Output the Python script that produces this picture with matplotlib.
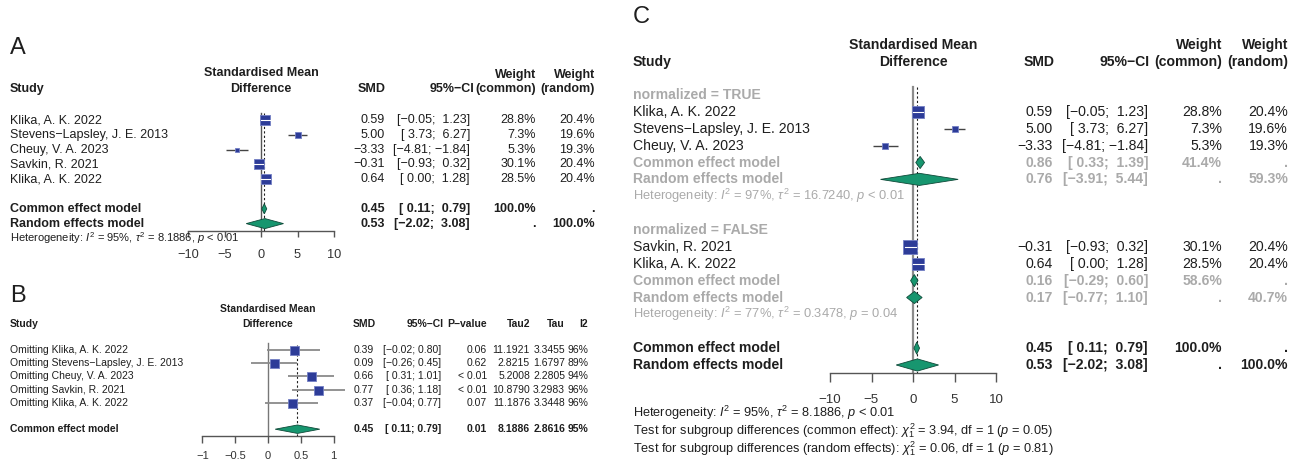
import matplotlib
matplotlib.use('Agg')
import matplotlib.pyplot as plt
from matplotlib.patches import Polygon
from matplotlib.transforms import blended_transform_factory

plt.rcParams['font.family'] = ['Liberation Sans', 'DejaVu Sans']
plt.rcParams['mathtext.fontset'] = 'custom'
plt.rcParams['mathtext.rm'] = 'Liberation Sans'
plt.rcParams['mathtext.it'] = 'Liberation Sans:italic'
plt.rcParams['mathtext.bf'] = 'Liberation Sans:bold'

# ---- data: studies (A and C) ----
studies = ['Klika, A. K. 2022', 'Stevens−Lapsley, J. E. 2013', 'Cheuy, V. A. 2023',
           'Savkin, R. 2021', 'Klika, A. K. 2022']
smd = [0.59, 5.00, -3.33, -0.31, 0.64]
ci_lo = [-0.05, 3.73, -4.81, -0.93, 0.00]
ci_hi = [1.23, 6.27, -1.84, 0.32, 1.28]
w_common = [28.8, 7.3, 5.3, 30.1, 28.5]
w_random = [20.4, 19.6, 19.3, 20.4, 20.4]
normalized = ['TRUE', 'TRUE', 'TRUE', 'FALSE', 'FALSE']

common = (0.45, 0.11, 0.79)
random = (0.53, -2.02, 3.08)
het_i2, het_tau2, het_p = '95%', '8.1886', '< 0.01'

# subgroups (C)
groups = ['TRUE', 'FALSE']
sub_common = [(0.86, 0.33, 1.39), (0.16, -0.29, 0.60)]
sub_common_w = [41.4, 58.6]
sub_random = [(0.76, -3.91, 5.44), (0.17, -0.77, 1.10)]
sub_random_w = [59.3, 40.7]
sub_het = [('97%', '16.7240', '< 0.01'), ('77%', '0.3478', '= 0.04')]
test_common = ('3.94', '1', '0.05')
test_random = ('0.06', '1', '0.81')

# leave-one-out (B)
loo_est = [0.39, 0.09, 0.66, 0.77, 0.37]
loo_lo = [-0.02, -0.26, 0.31, 0.36, -0.04]
loo_hi = [0.80, 0.45, 1.01, 1.18, 0.77]
loo_p = ['0.06', '0.62', '< 0.01', '< 0.01', '0.07']
loo_tau2 = ['11.1921', '2.8215', '5.2008', '10.8790', '11.1876']
loo_tau = ['3.3455', '1.6797', '2.2805', '3.2983', '3.3448']
loo_i2 = ['96%', '89%', '94%', '96%', '96%']
pooled_p, pooled_tau2, pooled_tau, pooled_i2 = '0.01', '8.1886', '2.8616', '95%'

# ---- styling ----
W, H = 1299, 461
BLACK = '#1e1e1e'
GRAY = '#aaaaaa'
AXC = '#555555'
SQ = '#2d3c98'
SQ_EDGE = '#7480c4'
DIA = '#17966f'
DIA_EDGE = '#0f4a39'

fig = plt.figure(figsize=(W / 100, H / 100), dpi=100)


def fx(x):
    return x / W


def fy(y):
    return 1 - y / H


def ftext(x, y, s, **kw):
    kw.setdefault('color', BLACK)
    kw.setdefault('va', 'center')
    fig.text(fx(x), fy(y), s, **kw)


def minus(s):
    return s.replace('-', '−')


def num(v):
    return minus(f'{v:.2f}')


def ci_column(lo, hi):
    los = [f'{v:.2f}' for v in lo]
    his = [f'{v:.2f}' for v in hi]
    wl = max(len(s) for s in los)
    wh = max(len(s) for s in his)
    return [minus('[' + a.rjust(wl) + '; ' + b.rjust(wh) + ']') for a, b in zip(los, his)]


def make_axes(xl, xr, xlim, row0, step, y_axis, ticks, tick_len, pad, tsize):
    axis_row = (y_axis - row0) / step
    ytop = row0 - step
    ax = fig.add_axes([fx(xl), fy(y_axis), (xr - xl) / W, (y_axis - ytop) / H])
    ax.set_xlim(xlim)
    ax.set_ylim(axis_row, -1)
    ax.patch.set_alpha(0)
    for s in ['top', 'left', 'right']:
        ax.spines[s].set_visible(False)
    ax.spines['bottom'].set_color(AXC)
    ax.spines['bottom'].set_linewidth(1)
    ax.set_yticks([])
    ax.set_xticks(ticks)
    ax.set_xticklabels([minus(f'{t:g}') for t in ticks])
    ax.tick_params(axis='x', length=tick_len, width=1, color=AXC, pad=pad,
                   labelsize=tsize, labelcolor='#333333')
    tr = blended_transform_factory(fig.transFigure, ax.transData)
    ppu = (xr - xl) / (xlim[1] - xlim[0])
    return ax, tr, axis_row, ppu


def rtext(tr, x, row, s, **kw):
    kw.setdefault('color', BLACK)
    kw.setdefault('va', 'center')
    plt.text(fx(x), row, s, transform=tr, **kw)


def study_mark(ax, row, est, lo, hi, side_px, ppu, line_col='#444444', lw=1.0):
    ax.plot([lo, hi], [row, row], color=line_col, lw=lw, zorder=2,
            solid_capstyle='butt', clip_on=False)
    ax.scatter([est], [row], marker='s', s=(side_px * 0.72) ** 2, color=SQ,
               edgecolor=SQ_EDGE, linewidth=0.6, zorder=3, clip_on=False)
    if (hi - lo) * ppu < side_px:
        ax.plot([lo, hi], [row, row], color='white', lw=0.8, zorder=4, clip_on=False)


def diamond(ax, row, est, lo, hi, half=0.34):
    ax.add_patch(Polygon([(lo, row), (est, row - half), (hi, row), (est, row + half)],
                         closed=True, facecolor=DIA, edgecolor=DIA_EDGE, lw=0.6,
                         zorder=3, clip_on=False))


# ================= Panel A =================
fs = 9
ftext(10, 48, 'A', fontsize=17)
ftext(261, 73, 'Standardised Mean', fontsize=fs, weight='bold', ha='center')
ftext(261, 89, 'Difference', fontsize=fs, weight='bold', ha='center')
ftext(10, 89, 'Study', fontsize=fs, weight='bold')
ftext(386, 89, 'SMD', fontsize=fs, weight='bold', ha='right')
ftext(474, 89, '95%−CI', fontsize=fs, weight='bold', ha='right')
ftext(536, 75, 'Weight', fontsize=fs, weight='bold', ha='right')
ftext(536, 89, '(common)', fontsize=fs, weight='bold', ha='right')
ftext(595, 75, 'Weight', fontsize=fs, weight='bold', ha='right')
ftext(595, 89, '(random)', fontsize=fs, weight='bold', ha='right')

axA, trA, arowA, ppuA = make_axes(188, 334, (-10, 10), 120, 14.8, 231,
                                  [-10, -5, 0, 5, 10], 4.3, 8.5, 9.2)
cisA = ci_column(ci_lo + [common[1], random[1]], ci_hi + [common[2], random[2]])
for i in range(len(studies)):
    side = 1.86 * w_common[i] ** 0.5
    study_mark(axA, i, smd[i], ci_lo[i], ci_hi[i], side, ppuA)
    rtext(trA, 10, i, studies[i], fontsize=fs)
    rtext(trA, 385, i, num(smd[i]), fontsize=fs, ha='right')
    rtext(trA, 470, i, cisA[i], fontsize=fs, ha='right')
    rtext(trA, 536, i, f'{w_common[i]:.1f}%', fontsize=fs, ha='right')
    rtext(trA, 595, i, f'{w_random[i]:.1f}%', fontsize=fs, ha='right')
rc, rr = len(studies) + 1, len(studies) + 2
diamond(axA, rc, *common)
diamond(axA, rr, *random)
for row, name, est, ci, wc, wr in [(rc, 'Common effect model', common[0], cisA[-2], '100.0%', '.'),
                                   (rr, 'Random effects model', random[0], cisA[-1], '.', '100.0%')]:
    rtext(trA, 10, row, name, fontsize=fs, weight='bold')
    rtext(trA, 385, row, num(est), fontsize=fs, weight='bold', ha='right')
    rtext(trA, 470, row, ci, fontsize=fs, weight='bold', ha='right')
    rtext(trA, 536, row, wc, fontsize=fs, weight='bold', ha='right')
    rtext(trA, 595, row, wr, fontsize=fs, weight='bold', ha='right')
axA.plot([0, 0], [-0.5, arowA], color=AXC, lw=1, zorder=1)
axA.plot([common[0]] * 2, [-0.5, arowA], color=BLACK, lw=0.8, ls=(0, (2, 2)), zorder=1)
rtext(trA, 10, rr + 1, rf'Heterogeneity: $I^2$ = {het_i2}, $\tau^2$ = {het_tau2}, $p$ {het_p}',
      fontsize=8)

# ================= Panel B =================
fb = 7.5
ftext(10, 296, 'B', fontsize=17)
ftext(268, 309, 'Standardised Mean', fontsize=fb, weight='bold', ha='center')
ftext(268, 324, 'Difference', fontsize=fb, weight='bold', ha='center')
ftext(10, 324, 'Study', fontsize=fb, weight='bold')
for x, s in [(376, 'SMD'), (444, '95%−CI'), (487, 'P−value'), (530, 'Tau2'), (565, 'Tau'), (588, 'I2')]:
    ftext(x, 324, s, fontsize=fb, weight='bold', ha='right')

axB, trB, arowB, ppuB = make_axes(202.5, 333.5, (-1, 1), 350, 13.2, 436,
                                  [-1, -0.5, 0, 0.5, 1], 4.8, 6, 8)
cisB = ci_column(loo_lo + [common[1]], loo_hi + [common[2]])
for i in range(len(loo_est)):
    study_mark(axB, i, loo_est[i], loo_lo[i], loo_hi[i], 9, ppuB, line_col='#8a8a8a', lw=1.3)
    rtext(trB, 10, i, 'Omitting ' + studies[i], fontsize=fb)
    rtext(trB, 374, i, num(loo_est[i]), fontsize=fb, ha='right')
    rtext(trB, 441, i, cisB[i], fontsize=fb, ha='right')
    rtext(trB, 487, i, loo_p[i], fontsize=fb, ha='right')
    rtext(trB, 530, i, loo_tau2[i], fontsize=fb, ha='right')
    rtext(trB, 565, i, loo_tau[i], fontsize=fb, ha='right')
    rtext(trB, 588, i, loo_i2[i], fontsize=fb, ha='right')
rowB = len(loo_est) + 1
diamond(axB, rowB, *common, half=0.32)
rtext(trB, 10, rowB, 'Common effect model', fontsize=fb, weight='bold')
for x, s in [(374, num(common[0])), (441, cisB[-1]), (487, pooled_p), (530, pooled_tau2),
             (565, pooled_tau), (588, pooled_i2)]:
    rtext(trB, x, rowB, s, fontsize=fb, weight='bold', ha='right')
axB.plot([0, 0], [-0.5, arowB], color='#777777', lw=1, zorder=1)
axB.plot([common[0]] * 2, [-0.4, arowB], color=BLACK, lw=0.8, ls=(0, (2, 2)), zorder=1)

# ================= Panel C =================
fc = 10.1
ftext(633, 17, 'C', fontsize=17)
ftext(913, 45, 'Standardised Mean', fontsize=fc, weight='bold', ha='center')
ftext(913, 62, 'Difference', fontsize=fc, weight='bold', ha='center')
ftext(633, 62, 'Study', fontsize=fc, weight='bold')
ftext(1055, 62, 'SMD', fontsize=fc, weight='bold', ha='right')
ftext(1150, 62, '95%−CI', fontsize=fc, weight='bold', ha='right')
ftext(1222, 45, 'Weight', fontsize=fc, weight='bold', ha='right')
ftext(1222, 62, '(common)', fontsize=fc, weight='bold', ha='right')
ftext(1288, 45, 'Weight', fontsize=fc, weight='bold', ha='right')
ftext(1288, 62, '(random)', fontsize=fc, weight='bold', ha='right')

axC, trC, arowC, ppuC = make_axes(830, 996, (-10, 10), 95, 16.875, 373,
                                  [-10, -5, 0, 5, 10], 6.5, 8.5, 9.6)
allC_lo = ci_lo + [c[1] for c in sub_common] + [c[1] for c in sub_random] + [common[1], random[1]]
allC_hi = ci_hi + [c[2] for c in sub_common] + [c[2] for c in sub_random] + [common[2], random[2]]
cisC = ci_column(allC_lo, allC_hi)
nS = len(studies)
row = 0
for g, grp in enumerate(groups):
    rtext(trC, 633, row, f'normalized = {grp}', fontsize=fc, weight='bold', color=GRAY)
    row += 1
    for i in range(nS):
        if normalized[i] != grp:
            continue
        side = 2.42 * w_common[i] ** 0.5
        study_mark(axC, row, smd[i], ci_lo[i], ci_hi[i], side, ppuC)
        rtext(trC, 633, row, studies[i], fontsize=fc)
        rtext(trC, 1053, row, num(smd[i]), fontsize=fc, ha='right')
        rtext(trC, 1148, row, cisC[i], fontsize=fc, ha='right')
        rtext(trC, 1222, row, f'{w_common[i]:.1f}%', fontsize=fc, ha='right')
        rtext(trC, 1288, row, f'{w_random[i]:.1f}%', fontsize=fc, ha='right')
        row += 1
    for name, est, ci, wc, wr in [('Common effect model', sub_common[g], cisC[nS + g], f'{sub_common_w[g]:.1f}%', '.'),
                                  ('Random effects model', sub_random[g], cisC[nS + 2 + g], '.', f'{sub_random_w[g]:.1f}%')]:
        diamond(axC, row, *est, half=0.36)
        rtext(trC, 633, row, name, fontsize=fc, weight='bold', color=GRAY)
        rtext(trC, 1053, row, num(est[0]), fontsize=fc, weight='bold', color=GRAY, ha='right')
        rtext(trC, 1148, row, ci, fontsize=fc, weight='bold', color=GRAY, ha='right')
        rtext(trC, 1222, row, wc, fontsize=fc, weight='bold', color=GRAY, ha='right')
        rtext(trC, 1288, row, wr, fontsize=fc, weight='bold', color=GRAY, ha='right')
        row += 1
    i2, t2, p = sub_het[g]
    rtext(trC, 633, row, rf'Heterogeneity: $I^2$ = {i2}, $\tau^2$ = {t2}, $p$ {p}', fontsize=9.3, color=GRAY)
    row += 2
for name, est, ci, wc, wr in [('Common effect model', common, cisC[-2], '100.0%', '.'),
                              ('Random effects model', random, cisC[-1], '.', '100.0%')]:
    diamond(axC, row, *est, half=0.36)
    rtext(trC, 633, row, name, fontsize=fc, weight='bold')
    rtext(trC, 1053, row, num(est[0]), fontsize=fc, weight='bold', ha='right')
    rtext(trC, 1148, row, ci, fontsize=fc, weight='bold', ha='right')
    rtext(trC, 1222, row, wc, fontsize=fc, weight='bold', ha='right')
    rtext(trC, 1288, row, wr, fontsize=fc, weight='bold', ha='right')
    row += 1
axC.plot([0, 0], [-0.45, arowC], color='#8c8c8c', lw=1.6, zorder=1)
axC.plot([common[0]] * 2, [-0.45, arowC], color=BLACK, lw=0.8, ls=(0, (2, 2)), zorder=1)

fb2 = 9.2
ftext(633, 413, rf'Heterogeneity: $I^2$ = {het_i2}, $\tau^2$ = {het_tau2}, $p$ {het_p}', fontsize=fb2)
ftext(633, 431, rf'Test for subgroup differences (common effect): $\chi^2_1$ = {test_common[0]}, '
      rf'df = {test_common[1]} ($p$ = {test_common[2]})', fontsize=fb2)
ftext(633, 449, rf'Test for subgroup differences (random effects): $\chi^2_1$ = {test_random[0]}, '
      rf'df = {test_random[1]} ($p$ = {test_random[2]})', fontsize=fb2)

fig.savefig('out.png', dpi=100)
